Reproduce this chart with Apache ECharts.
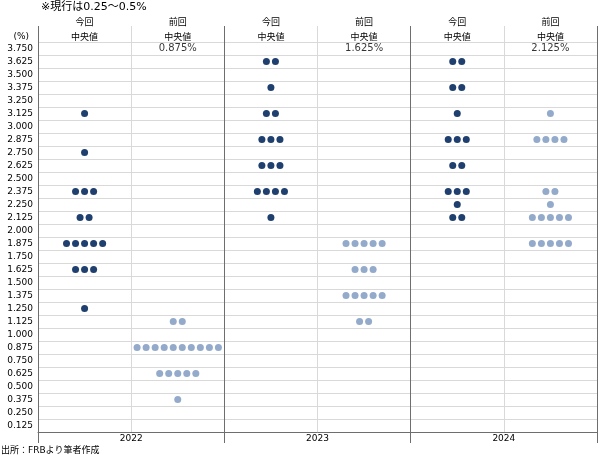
<!DOCTYPE html>
<html>
<head>
<meta charset="utf-8">
<script src="https://cdn.jsdelivr.net/npm/echarts@6/dist/echarts.min.js"></script>
<style>
  html, body { margin: 0; padding: 0; background: #fff; }
  #chart { width: 600px; height: 455px; }
</style>
</head>
<body>
<div id="chart"></div>
<script>
// 政策金利見通し（ドットチャート）
const rates = [
  "0.125", "0.250", "0.375", "0.500", "0.625", "0.750", "0.875", "1.000",
  "1.125", "1.250", "1.375", "1.500", "1.625", "1.750", "1.875", "2.000",
  "2.125", "2.250", "2.375", "2.500", "2.625", "2.750", "2.875", "3.000",
  "3.125", "3.250", "3.375", "3.500", "3.625", "3.750",
];
const years = ["2022", "2023", "2024"];
const headers = ["今回\n中央値", "前回\n中央値", "今回\n中央値", "前回\n中央値", "今回\n中央値", "前回\n中央値"];
const medians = ["0.875%", "1.625%", "2.125%"]; // 前回の中央値

// [金利, 人数]
const now2022 = [["3.125", 1], ["2.750", 1], ["2.375", 3], ["2.125", 2], ["1.875", 5], ["1.625", 3], ["1.250", 1]];
const prev2022 = [["1.125", 2], ["0.875", 10], ["0.625", 5], ["0.375", 1]];
const now2023 = [["3.625", 2], ["3.375", 1], ["3.125", 2], ["2.875", 3], ["2.625", 3], ["2.375", 4], ["2.125", 1]];
const prev2023 = [["1.875", 5], ["1.625", 3], ["1.375", 5], ["1.125", 2]];
const now2024 = [["3.625", 2], ["3.375", 2], ["3.125", 1], ["2.875", 3], ["2.625", 2], ["2.375", 3], ["2.250", 1], ["2.125", 2]];
const prev2024 = [["3.125", 1], ["2.875", 4], ["2.375", 2], ["2.250", 1], ["2.125", 5], ["1.875", 5]];

const DARK = "#1f3f6e";
const LIGHT = "#93aacb";
const GRID_DARK = "#6e6e6e";
const GRID_LIGHT = "#d9d9d9";
const FONT = "DejaVu Sans, Noto Sans CJK JP, sans-serif";
const dotGap = 0.097; // 列幅に対するドット間隔

// 列ごとに横に並べる
const toDots = (list, col) => {
  const out = [];
  list.forEach(([rate, n]) => {
    for (let k = 0; k < n; k++) {
      out.push([col + 0.5 + (k - (n - 1) / 2) * dotGap, rate]);
    }
  });
  return out;
};

const nowDots = [].concat(toDots(now2022, 0), toDots(now2023, 2), toDots(now2024, 4));
const prevDots = [].concat(toDots(prev2022, 1), toDots(prev2023, 3), toDots(prev2024, 5));
const medianData = medians.map((m, i) => ({ value: [i * 2 + 1.5, "3.750"], name: m }));

const myChart = echarts.init(document.getElementById("chart"));
myChart.setOption({
  animation: false,
  textStyle: { fontFamily: FONT },
  title: [
    {
      text: "※現行は0.25～0.5%",
      left: 36,
      top: -3,
      textStyle: { fontSize: 11, fontWeight: "normal", color: "#000", fontFamily: FONT },
    },
    {
      text: "出所：FRBより筆者作成",
      left: -4,
      bottom: -5,
      textStyle: { fontSize: 9, fontWeight: "normal", color: "#000", fontFamily: FONT },
    },
  ],
  grid: { left: 38, right: 3, top: 42, bottom: 23 },
  xAxis: [
    {
      type: "value",
      position: "bottom",
      min: 0,
      max: 6,
      interval: 1,
      axisLine: { show: true, lineStyle: { color: GRID_DARK } },
      axisTick: { show: false },
      axisLabel: {
        margin: 2,
        fontSize: 9,
        color: "#000",
        formatter: (v) => (v % 2 === 1 ? years[(v - 1) / 2] : ""),
      },
      splitLine: { show: true, lineStyle: { color: GRID_LIGHT } },
    },
    {
      type: "value",
      position: "bottom",
      min: 0,
      max: 6,
      interval: 2,
      axisLine: { show: false },
      axisTick: { show: true, length: 11, lineStyle: { color: GRID_DARK } },
      axisLabel: { show: false },
      splitLine: { show: true, lineStyle: { color: GRID_DARK } },
    },
    {
      type: "value",
      position: "top",
      min: 0,
      max: 6,
      interval: 1,
      axisLine: { show: false },
      axisTick: { show: true, length: 16, lineStyle: { color: GRID_LIGHT } },
      axisLabel: { show: false },
      splitLine: { show: false },
    },
    {
      type: "value",
      position: "top",
      min: 0,
      max: 6,
      interval: 2,
      axisLine: { show: false },
      axisTick: { show: true, length: 16, lineStyle: { color: GRID_DARK } },
      axisLabel: { show: false },
      splitLine: { show: false },
    },
    {
      type: "category",
      position: "top",
      data: headers,
      axisLine: { show: false },
      axisTick: { show: false },
      axisLabel: { interval: 0, margin: -3, fontSize: 9, lineHeight: 15, color: "#000" },
      splitLine: { show: false },
    },
  ],
  yAxis: {
    type: "category",
    data: rates,
    name: "(%)",
    nameLocation: "end",
    nameGap: 1,
    nameTextStyle: { fontSize: 9, color: "#000", align: "right", padding: [0, 9, 0, 0] },
    axisLine: { show: true, lineStyle: { color: GRID_DARK } },
    axisTick: { show: false },
    axisLabel: { interval: 0, margin: 5, fontSize: 9, color: "#000" },
    splitLine: { show: true, interval: 0, lineStyle: { color: GRID_LIGHT } },
  },
  series: [
    {
      name: "今回",
      type: "scatter",
      symbolSize: 7,
      itemStyle: { color: DARK, opacity: 1 },
      data: nowDots,
      z: 3,
    },
    {
      name: "前回",
      type: "scatter",
      symbolSize: 7,
      itemStyle: { color: LIGHT, opacity: 1 },
      data: prevDots,
      z: 3,
    },
    {
      name: "中央値",
      type: "scatter",
      symbolSize: 0,
      data: medianData,
      label: {
        show: true,
        position: "inside",
        formatter: (p) => p.name,
        fontSize: 10,
        color: "#000",
      },
      z: 4,
    },
  ],
});
</script>
</body>
</html>
